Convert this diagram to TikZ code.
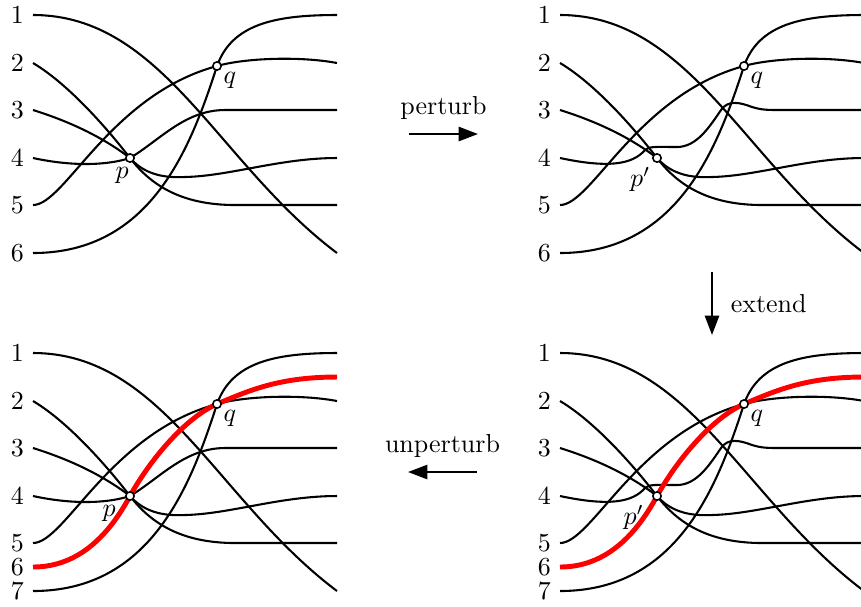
\documentclass[tikz,border=0pt]{standalone}
\usetikzlibrary{arrows.meta}
\tikzset{
  strand/.style={thick},
  redstrand/.style={red,line width=1.9pt},
  crossing/.style={circle,draw,fill=white,line width=0.6pt,inner sep=0pt,minimum size=3.2pt},
  rowlabel/.style={left},
  move/.style={thick,-{Triangle[length=7.5pt,width=5.5pt]}}
}

% strands that are the same in all four panels
\newcommand{\sharedstrands}{
  \coordinate (P) at (130,158);
  \coordinate (Q) at (217,66);
  \draw[strand] (33,15) .. controls (163,15) and (217,163) .. (337,253);
  \draw[strand] (33,63) .. controls (70,85) and (110,132) .. (P)
    .. controls (150,184) and (180,205) .. (235,205) -- (337,205);
  \draw[strand] (33,110) .. controls (65,120) and (100,135) .. (P)
    .. controls (145,175) and (165,178) .. (185,177)
    .. controls (230,176) and (280,158) .. (337,158);
  \draw[strand] (33,205) .. controls (65,205) and (110,95) .. (Q)
    .. controls (245,58) and (300,56) .. (337,63);
  \draw[strand] (33,253) .. controls (150,253) and (190,150) .. (Q)
    .. controls (232,24) and (275,15) .. (337,15);
}
% strand 4 through p
\newcommand{\straightfour}{
  \draw[strand] (33,158) .. controls (70,166) and (105,166) .. (P)
    .. controls (160,140) and (185,110) .. (225,110) -- (337,110);
}
% strand 4 pushed off p
\newcommand{\bentfour}{
  \draw[strand] (33,158) .. controls (80,168) and (105,165) .. (118,150)
    .. controls (122,146) and (130,147) .. (150,147)
    .. controls (170,147) and (183,126) .. (194,110)
    .. controls (201,100) and (212,102) .. (225,107)
    .. controls (235,110) and (240,110) .. (255,110) -- (337,110);
}
% the added strand
\newcommand{\extrastrand}{
  \draw[redstrand] (33,229) .. controls (80,229) and (110,195) .. (P)
    .. controls (150,122) and (185,80) .. (Q)
    .. controls (250,52) and (280,39) .. (337,39);
}

\begin{document}
\begin{tikzpicture}[x=0.385pt,y=-0.385pt]
\useasboundingbox (0,0) rectangle (861,606);

% top left
\begin{scope}
  \sharedstrands
  \straightfour
  \node[crossing,label={[inner sep=1pt,xshift=2pt,yshift=-1pt]below left:$p$}] (pa) at (P) {};
  \node[crossing,label={[inner sep=1pt]below right:$q$}] (qa) at (Q) {};
  \foreach \k/\y in {1/15,2/63,3/110,4/158,5/205,6/253}
    \node[rowlabel] (ra\k) at (33,\y) {\k};
\end{scope}

% top right
\begin{scope}[shift={(527,0)}]
  \sharedstrands
  \bentfour
  \node[crossing,label={[inner sep=1pt,yshift=-1pt]below left:$p'$}] (pb) at (P) {};
  \node[crossing,label={[inner sep=1pt]below right:$q$}] (qb) at (Q) {};
  \foreach \k/\y in {1/15,2/63,3/110,4/158,5/205,6/253}
    \node[rowlabel] (rb\k) at (33,\y) {\k};
\end{scope}

% bottom right
\begin{scope}[shift={(527,338)}]
  \sharedstrands
  \bentfour
  \extrastrand
  \node[crossing,label={[inner sep=1pt,xshift=-2.5pt,yshift=-1pt]below left:$p'$}] (pc) at (P) {};
  \node[crossing,label={[inner sep=1pt]below right:$q$}] (qc) at (Q) {};
  \foreach \k/\y in {1/15,2/63,3/110,4/158,5/205,6/229,7/253}
    \node[rowlabel] (rc\k) at (33,\y) {\k};
\end{scope}

% bottom left
\begin{scope}[shift={(0,338)}]
  \sharedstrands
  \straightfour
  \extrastrand
  \node[crossing,label={[inner sep=1pt,xshift=-3pt,yshift=-1pt]below left:$p$}] (pd) at (P) {};
  \node[crossing,label={[inner sep=1pt]below right:$q$}] (qd) at (Q) {};
  \foreach \k/\y in {1/15,2/63,3/110,4/158,5/205,6/229,7/253}
    \node[rowlabel] (rd\k) at (33,\y) {\k};
\end{scope}

% steps between the panels
\coordinate (perturbtail) at (409,134);
\coordinate (perturbhead) at (478,134);
\coordinate (extendtail) at (712,272);
\coordinate (extendhead) at (712,335);
\coordinate (unperturbtail) at (477,472);
\coordinate (unperturbhead) at (408,472);
\draw[move] (perturbtail) -- node[above=2pt] (perturblabel) {perturb} (perturbhead);
\draw[move] (extendtail) -- node[right=3.5pt] (extendlabel) {extend} (extendhead);
\draw[move] (unperturbtail) -- node[above=2pt] (unperturblabel) {unperturb} (unperturbhead);
\end{tikzpicture}
\end{document}
